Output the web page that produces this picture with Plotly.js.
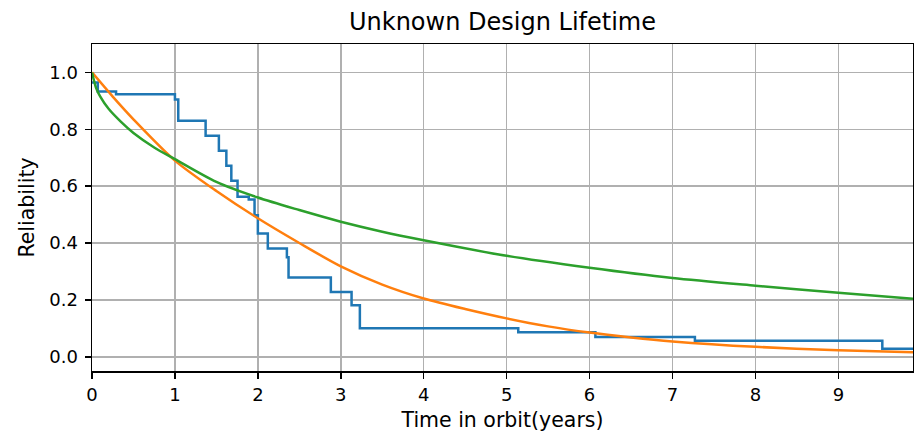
<!DOCTYPE html>
<html>
<head>
<meta charset="utf-8">
<script src="https://cdn.plot.ly/plotly-3.0.1.min.js"></script>
<style>html,body{margin:0;padding:0;background:#fff;}#chart{width:914px;height:434px;}</style>
</head>
<body>
<div id="chart"></div>
<script>
// Empirical (Kaplan-Meier style) step data
var stepTime = [0, 0.07, 0.29, 1.0, 1.04, 1.37, 1.53, 1.62, 1.68, 1.755, 1.89, 1.96, 2.0, 2.12, 2.35, 2.37, 2.88, 3.13, 3.23, 5.14, 6.07, 7.27, 9.53, 9.9];
var stepRel  = [0.965, 0.933, 0.923, 0.905, 0.83, 0.777, 0.725, 0.672, 0.619, 0.563, 0.553, 0.498, 0.434, 0.381, 0.35, 0.279, 0.228, 0.181, 0.100, 0.086, 0.070, 0.056, 0.028, 0.028];

// Fitted model 1 (orange)
var fit1Time = [0, 0.25, 0.5, 1, 1.5, 2, 2.5, 3, 3.5, 4, 4.5, 5, 5.5, 6, 6.5, 7, 8, 9, 9.9];
var fit1Rel  = [1.0, 0.915, 0.835, 0.69, 0.583, 0.487, 0.40, 0.318, 0.254, 0.205, 0.168, 0.135, 0.107, 0.085, 0.068, 0.054, 0.035, 0.023, 0.016];

// Fitted model 2 (green)
var fit2Time = [0, 0.05, 0.1, 0.2, 0.35, 0.5, 0.75, 1, 1.5, 2, 2.5, 3, 3.5, 4, 5, 6, 7, 8, 9, 9.9];
var fit2Rel  = [1.0, 0.945, 0.915, 0.872, 0.826, 0.787, 0.736, 0.695, 0.615, 0.56, 0.516, 0.475, 0.44, 0.41, 0.355, 0.313, 0.277, 0.25, 0.225, 0.204];

var xTicks = [0, 1, 2, 3, 4, 5, 6, 7, 8, 9];
var yTicks = [0.0, 0.2, 0.4, 0.6, 0.8, 1.0];

var traces = [
  {x: stepTime, y: stepRel, mode: 'lines', line: {color: '#1f77b4', width: 2.5, shape: 'hv'}, hoverinfo: 'skip'},
  {x: fit1Time, y: fit1Rel, mode: 'lines', line: {color: '#ff7f0e', width: 2.5, shape: 'spline', smoothing: 0.8}, hoverinfo: 'skip'},
  {x: fit2Time, y: fit2Rel, mode: 'lines', line: {color: '#2ca02c', width: 2.5, shape: 'spline', smoothing: 0.8}, hoverinfo: 'skip'}
];

var fontFam = 'DejaVu Sans, sans-serif';
var layout = {
  width: 914, height: 434,
  margin: {l: 92, r: 1, t: 44, b: 63},
  paper_bgcolor: '#fff', plot_bgcolor: '#fff',
  showlegend: false,
  font: {family: fontFam, size: 18, color: '#000'},
  title: {text: 'Unknown Design Lifetime', font: {family: fontFam, size: 24, color: '#000'},
          x: 0.5, xref: 'paper', xanchor: 'center', y: 0.95, yref: 'container', yanchor: 'middle'},
  xaxis: {
    range: [0, 9.9], tickvals: xTicks, ticktext: xTicks.map(String),
    showgrid: true, gridcolor: '#b0b0b0', gridwidth: 1.5, zeroline: false,
    showline: true, linecolor: '#000', linewidth: 1.5, mirror: true,
    ticks: 'outside', ticklen: 6, tickwidth: 1.5, tickcolor: '#000',
    ticklabelstandoff: 1,
    tickfont: {family: fontFam, size: 18, color: '#000'},
    title: {text: 'Time in orbit(years)', font: {family: fontFam, size: 20.5, color: '#000'}, standoff: 8}
  },
  yaxis: {
    range: [-0.05, 1.1], tickvals: yTicks, ticktext: yTicks.map(function(v){return v.toFixed(1);}),
    showgrid: true, gridcolor: '#b0b0b0', gridwidth: 1.5, zeroline: false,
    showline: true, linecolor: '#000', linewidth: 1.5, mirror: true,
    ticks: 'outside', ticklen: 6, tickwidth: 1.5, tickcolor: '#000',
    ticklabelstandoff: 3,
    tickfont: {family: fontFam, size: 18, color: '#000'},
    title: {text: 'Reliability', font: {family: fontFam, size: 20.5, color: '#000'}, standoff: 9}
  }
};

Plotly.newPlot('chart', traces, layout, {staticPlot: true, displayModeBar: false});
</script>
</body>
</html>
